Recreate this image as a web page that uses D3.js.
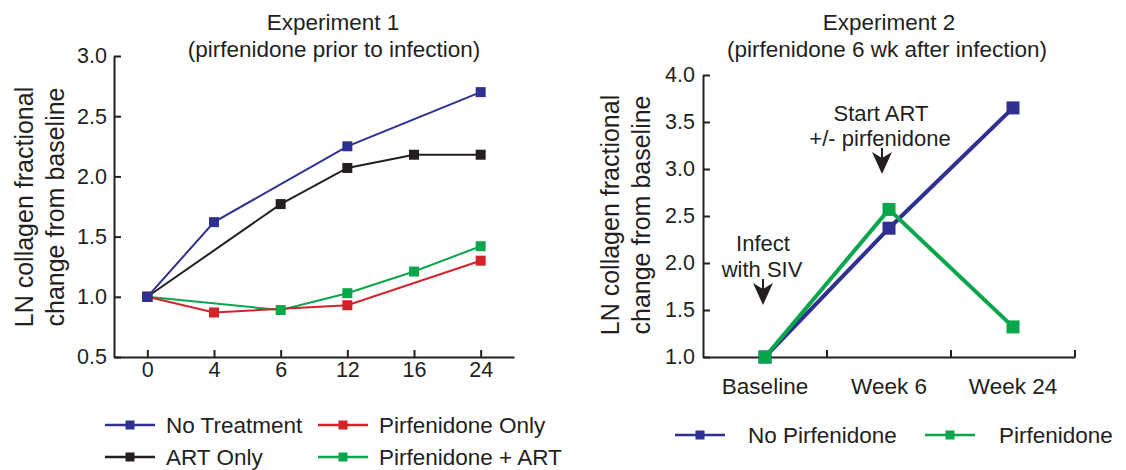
<!DOCTYPE html>
<html>
<head>
<meta charset="utf-8">
<script src="https://cdn.jsdelivr.net/npm/d3@7"></script>
<style>
  html, body { margin: 0; padding: 0; background: #ffffff; }
  svg { display: block; font-family: "Liberation Sans", Arial, Helvetica, sans-serif; }
  text { fill: #231f20; }
</style>
</head>
<body>
<svg id="chart" width="1126" height="470"></svg>
<script>
// ---------- Data: Experiment 1 ----------
const exp1Weeks = ["0", "4", "6", "12", "16", "24"];
const exp1YTicks = [0.5, 1.0, 1.5, 2.0, 2.5, 3.0];
const noTreatment      = [1.00, 1.62, null, 2.25, null, 2.70];
const artOnly          = [1.00, null, 1.77, 2.07, 2.18, 2.18];
const pirfenidoneOnly  = [1.00, 0.87, null, 0.93, null, 1.30];
const pirfenidoneArt   = [1.00, null, 0.89, 1.03, 1.21, 1.42];
const exp1Names = ["No Treatment", "Pirfenidone Only", "ART Only", "Pirfenidone + ART"];

// ---------- Data: Experiment 2 ----------
const exp2Times = ["Baseline", "Week 6", "Week 24"];
const exp2YTicks = [1.0, 1.5, 2.0, 2.5, 3.0, 3.5, 4.0];
const noPirfenidone = [1.00, 2.37, 3.65];
const pirfenidone   = [1.00, 2.57, 1.32];
const exp2Names = ["No Pirfenidone", "Pirfenidone"];

const C = { blue: "#2e3192", black: "#231f20", red: "#d2232a", green: "#0aa64b", ink: "#231f20" };
const FS = { title: 22.5, tick: 21.5, label: 25, legend: 22.5, note: 22 };

const svg = d3.select("#chart");
svg.append("rect").attr("width", 1126).attr("height", 470).attr("fill", "#fff");

function arrowDown(g, x, y0, yTip) {
  g.append("line").attr("x1", x).attr("x2", x).attr("y1", y0).attr("y2", yTip - 10)
    .attr("stroke", C.ink).attr("stroke-width", 2);
  g.append("path")
    .attr("d", `M${x},${yTip} L${x - 10},${yTip - 22} L${x},${yTip - 16} L${x + 10},${yTip - 22} Z`)
    .attr("fill", C.ink);
}

function styleAxis(g) {
  g.selectAll(".domain").attr("stroke", C.ink).attr("stroke-width", 2);
  g.selectAll(".tick line").attr("stroke", C.ink).attr("stroke-width", 2);
  g.selectAll(".tick text").attr("fill", C.ink);
}

// ================= Experiment 1 =================
{
  const x = d3.scalePoint().domain(exp1Weeks).range([114, 514]).padding(0.5);
  const y = d3.scaleLinear().domain([0.5, 3.0]).range([357, 56]);
  const g = svg.append("g");

  const ya = g.append("g").attr("transform", "translate(114,0)")
    .call(d3.axisLeft(y).tickValues(exp1YTicks).tickFormat(d3.format(".1f"))
      .tickSizeInner(-7).tickSizeOuter(0).tickPadding(7));
  ya.selectAll("text").attr("font-size", FS.tick);
  styleAxis(ya);

  const xa = g.append("g").attr("transform", "translate(0,357)")
    .call(d3.axisBottom(x).tickSizeInner(-7).tickSizeOuter(0).tickPadding(5));
  xa.selectAll("text").attr("font-size", FS.tick);
  styleAxis(xa);

  // y label
  const yl = g.append("text").attr("transform", "translate(33,207) rotate(-90)")
    .attr("text-anchor", "middle").attr("font-size", FS.label);
  yl.append("tspan").attr("x", 0).attr("y", 0).text("LN collagen fractional");
  yl.append("tspan").attr("x", 0).attr("y", 31).text("change from baseline");

  // title
  g.append("text").attr("x", 333).attr("y", 30).attr("text-anchor", "middle")
    .attr("font-size", FS.title).text("Experiment 1");
  g.append("text").attr("x", 334).attr("y", 57).attr("text-anchor", "middle")
    .attr("font-size", FS.title).text("(pirfenidone prior to infection)");

  const series = [
    { vals: pirfenidoneArt, color: C.green },
    { vals: pirfenidoneOnly, color: C.red },
    { vals: artOnly, color: C.black },
    { vals: noTreatment, color: C.blue }
  ];
  const line = d3.line().x(d => x(d.k)).y(d => y(d.v));
  const pts = s => exp1Weeks.map((k, i) => ({ k, v: s.vals[i] })).filter(d => d.v !== null);
  series.forEach(s => {
    g.append("path").datum(pts(s)).attr("d", line).attr("fill", "none")
      .attr("stroke", s.color).attr("stroke-width", 2);
  });
  const sq = 10;
  [series[1], series[0], series[2], series[3]].forEach(s => {
    g.selectAll(null).data(pts(s)).enter().append("rect")
      .attr("x", d => x(d.k) - sq / 2).attr("y", d => y(d.v) - sq / 2)
      .attr("width", sq).attr("height", sq).attr("fill", s.color);
  });

  // legend
  const leg = [
    { name: exp1Names[0], color: C.blue, lx: 105, ty: 425 },
    { name: exp1Names[1], color: C.red, lx: 318, ty: 425 },
    { name: exp1Names[2], color: C.black, lx: 105, ty: 457 },
    { name: exp1Names[3], color: C.green, lx: 318, ty: 457 }
  ];
  leg.forEach(l => {
    g.append("line").attr("x1", l.lx).attr("x2", l.lx + 50).attr("y1", l.ty).attr("y2", l.ty)
      .attr("stroke", l.color).attr("stroke-width", 2.5);
    g.append("rect").attr("x", l.lx + 25 - 4.5).attr("y", l.ty - 4.5).attr("width", 9).attr("height", 9)
      .attr("fill", l.color);
    g.append("text").attr("x", l.lx + 61).attr("y", l.ty + 8).attr("font-size", FS.legend).text(l.name);
  });
}

// ================= Experiment 2 =================
{
  const x = d3.scaleBand().domain(exp2Times).range([703, 1075]);
  const cx = d => x(d) + x.bandwidth() / 2;
  const y = d3.scaleLinear().domain([1.0, 4.0]).range([357, 75]);
  const g = svg.append("g");

  const ya = g.append("g").attr("transform", "translate(703,0)")
    .call(d3.axisLeft(y).tickValues(exp2YTicks).tickFormat(d3.format(".1f"))
      .tickSizeInner(-7).tickSizeOuter(0).tickPadding(8));
  ya.selectAll("text").attr("font-size", FS.tick);
  styleAxis(ya);

  const xa = g.append("g").attr("transform", "translate(0,357)")
    .call(d3.axisBottom(x).tickSize(0).tickPadding(21));
  xa.selectAll("text").attr("font-size", FS.title);
  styleAxis(xa);
  // boundary ticks pointing up
  exp2Times.forEach(t => {
    const bx = x(t) + x.bandwidth();
    g.append("line").attr("x1", bx).attr("x2", bx).attr("y1", 357).attr("y2", 350)
      .attr("stroke", C.ink).attr("stroke-width", 2);
  });

  const yl = g.append("text").attr("transform", "translate(619,215) rotate(-90)")
    .attr("text-anchor", "middle").attr("font-size", FS.label);
  yl.append("tspan").attr("x", 0).attr("y", 0).text("LN collagen fractional");
  yl.append("tspan").attr("x", 0).attr("y", 31).text("change from baseline");

  g.append("text").attr("x", 889).attr("y", 30).attr("text-anchor", "middle")
    .attr("font-size", FS.title).text("Experiment 2");
  g.append("text").attr("x", 887).attr("y", 57).attr("text-anchor", "middle")
    .attr("font-size", FS.title).text("(pirfenidone 6 wk after infection)");

  // annotations
  g.append("text").attr("x", 881).attr("y", 121).attr("text-anchor", "middle").attr("font-size", FS.note).text("Start ART");
  g.append("text").attr("x", 880).attr("y", 146).attr("text-anchor", "middle").attr("font-size", FS.note).text("+/- pirfenidone");
  arrowDown(g, 882, 148, 174);
  g.append("text").attr("x", 763).attr("y", 251).attr("text-anchor", "middle").attr("font-size", FS.note).text("Infect");
  g.append("text").attr("x", 762).attr("y", 277).attr("text-anchor", "middle").attr("font-size", FS.note).text("with SIV");
  arrowDown(g, 763, 279, 305);

  const series = [
    { vals: noPirfenidone, color: C.blue },
    { vals: pirfenidone, color: C.green }
  ];
  const line = d3.line().x(d => cx(d.k)).y(d => y(d.v));
  const sq = 13;
  series.forEach(s => {
    const p = exp2Times.map((k, i) => ({ k, v: s.vals[i] }));
    g.append("path").datum(p).attr("d", line).attr("fill", "none")
      .attr("stroke", s.color).attr("stroke-width", 4);
    g.selectAll(null).data(p).enter().append("rect")
      .attr("x", d => cx(d.k) - sq / 2).attr("y", d => y(d.v) - sq / 2)
      .attr("width", sq).attr("height", sq).attr("fill", s.color);
  });

  const leg = [
    { name: exp2Names[0], color: C.blue, lx: 675, tx: 748 },
    { name: exp2Names[1], color: C.green, lx: 925, tx: 999 }
  ];
  leg.forEach(l => {
    g.append("line").attr("x1", l.lx).attr("x2", l.lx + 50).attr("y1", 435).attr("y2", 435)
      .attr("stroke", l.color).attr("stroke-width", 2.5);
    g.append("rect").attr("x", l.lx + 25 - 4.5).attr("y", 435 - 4.5).attr("width", 9).attr("height", 9)
      .attr("fill", l.color);
    g.append("text").attr("x", l.tx).attr("y", 443).attr("font-size", FS.legend).text(l.name);
  });
}
</script>
</body>
</html>
